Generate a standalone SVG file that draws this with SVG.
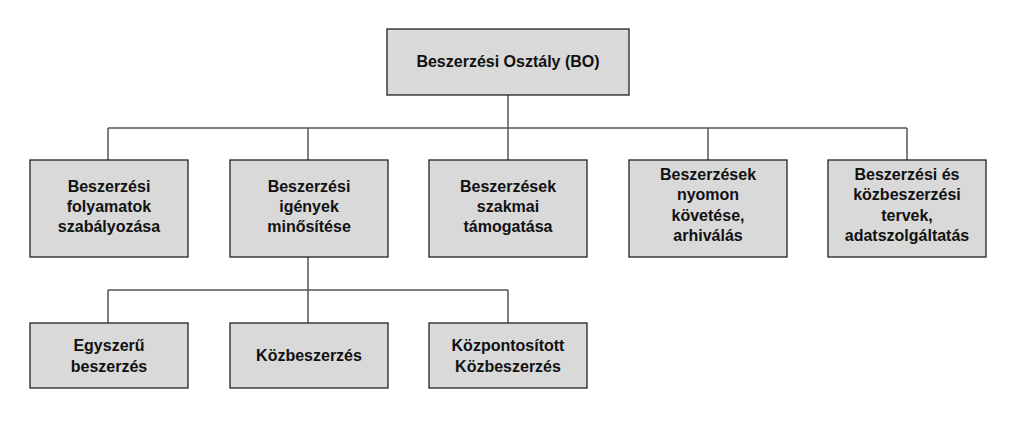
<svg xmlns="http://www.w3.org/2000/svg" width="1024" height="431" viewBox="0 0 1024 431">
<style>
rect{fill:#d9d9d9;stroke:#222;stroke-width:1.3}
text{font-family:"Liberation Sans",Arial,sans-serif;font-weight:bold;font-size:16px;fill:#111;text-anchor:middle}
#connectors path{fill:none;stroke:#555;stroke-width:1.5}
</style>
<rect x="0" y="0" width="1024" height="431" style="fill:#fff;stroke:none"/>
<g id="connectors">
<path d="M508 95V128M108 128H907M108 128V160M308 128V160M508 128V160M708 128V160M907 128V160"/>
<path d="M308 257V290M108 290H508M108 290V323M308 290V323M508 290V323"/>
</g>
<g id="n0"><rect x="387" y="29" width="242" height="66"/><text x="508" y="67">Beszerzési Osztály (BO)</text></g>
<g id="n1"><rect x="30" y="160" width="158" height="97"/><text x="109" y="192">Beszerzési</text><text x="109" y="212">folyamatok</text><text x="109" y="232">szabályozása</text></g>
<g id="n2"><rect x="230" y="160" width="158" height="97"/><text x="309" y="192">Beszerzési</text><text x="309" y="212">igények</text><text x="309" y="232">minősítése</text></g>
<g id="n3"><rect x="429" y="160" width="158" height="97"/><text x="508" y="192">Beszerzések</text><text x="508" y="212">szakmai</text><text x="508" y="232">támogatása</text></g>
<g id="n4"><rect x="629" y="160" width="158" height="97"/><text x="708" y="180">Beszerzések</text><text x="708" y="200">nyomon</text><text x="708" y="221">követése,</text><text x="708" y="241">arhiválás</text></g>
<g id="n5"><rect x="828" y="160" width="158" height="97"/><text x="907" y="180">Beszerzési és</text><text x="907" y="200">közbeszerzési</text><text x="907" y="221">tervek,</text><text x="907" y="241">adatszolgáltatás</text></g>
<g id="n6"><rect x="30" y="323" width="158" height="65"/><text x="109" y="351">Egyszerű</text><text x="109" y="372">beszerzés</text></g>
<g id="n7"><rect x="230" y="323" width="158" height="65"/><text x="309" y="361">Közbeszerzés</text></g>
<g id="n8"><rect x="429" y="323" width="158" height="65"/><text x="508" y="351">Központosított</text><text x="508" y="372">Közbeszerzés</text></g>
</svg>
